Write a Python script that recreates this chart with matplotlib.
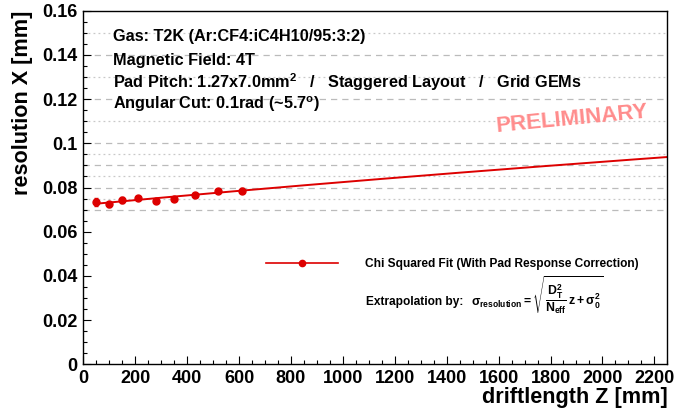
import numpy as np
import matplotlib
matplotlib.use("Agg")
import matplotlib.pyplot as plt
from matplotlib.lines import Line2D

plt.rcParams['font.family'] = ['Liberation Sans', 'DejaVu Sans']
plt.rcParams['font.weight'] = 'bold'
plt.rcParams['mathtext.fontset'] = 'custom'
plt.rcParams['mathtext.rm'] = 'Liberation Sans:bold'
plt.rcParams['mathtext.it'] = 'Liberation Sans:bold'
plt.rcParams['mathtext.bf'] = 'Liberation Sans:bold'
plt.rcParams['mathtext.sf'] = 'Liberation Sans:bold'

# ---- data ----
drift_z = [50, 100, 150, 210, 280, 350, 430, 520, 610]
resolution_x = [0.0736, 0.0724, 0.0743, 0.0752, 0.0740, 0.0748, 0.0767, 0.0784, 0.0786]
resolution_err = [0.0018, 0.0012, 0.0012, 0.0010, 0.0010, 0.0010, 0.0010, 0.0010, 0.0010]

# fit: sigma = sqrt(a*z + sigma0^2)
fit_slope = 1.598e-6      # D_T^2 / N_eff  [mm]
fit_sigma0 = 0.07212      # [mm]
fit_z_range = [50, 2250]

dashed_grid = [0.07, 0.08, 0.09, 0.10, 0.12, 0.14]
dotted_grid = [0.075, 0.085, 0.095, 0.11, 0.13, 0.15]

x_ticks = [0, 200, 400, 600, 800, 1000, 1200, 1400, 1600, 1800, 2000, 2200]
y_ticks = [0, 0.02, 0.04, 0.06, 0.08, 0.1, 0.12, 0.14, 0.16]
y_tick_labels = ['0', '0.02', '0.04', '0.06', '0.08', '0.1', '0.12', '0.14', '0.16']

info_lines = [
    "Gas: T2K (Ar:CF4:iC4H10/95:3:2)",
    "Magnetic Field: 4T",
    r"Pad Pitch: 1.27x7.0mm$^{2}$   /   Staggered Layout   /   Grid GEMs",
    r"Angular Cut: 0.1rad (~5.7$^{o}$)",
]

W, H = 674, 415
fig = plt.figure(figsize=(W / 100, H / 100), dpi=100)
L, R, T, B = 83.3, 667.3, 10.7, 364.3
ax = fig.add_axes([L / W, 1 - B / H, (R - L) / W, (B - T) / H])

red = '#dd0000'

for g in dashed_grid:
    ax.axhline(g, color='#bbbbbb', lw=0.9, ls=(0, (5, 4)), zorder=0)
for g in dotted_grid:
    ax.axhline(g, color='#c8c8c8', lw=0.9, ls=(0, (1.5, 2.5)), zorder=0)

zf = np.linspace(fit_z_range[0], fit_z_range[1], 400)
ax.plot(zf, np.sqrt(fit_slope * zf + fit_sigma0 ** 2), color=red, lw=1.4, zorder=2)

ax.errorbar(drift_z, resolution_x, yerr=resolution_err, fmt='o', color=red,
            ms=5, elinewidth=1.0, capsize=1.5, zorder=3)

ax.set_xlim(0, 2250)
ax.set_ylim(0, 0.16)
ax.set_xticks(x_ticks)
ax.set_xticks(np.arange(0, 2251, 50), minor=True)
ax.set_yticks(y_ticks)
ax.set_yticklabels(y_tick_labels)
ax.set_yticks(np.arange(0, 0.1601, 0.005), minor=True)
ax.tick_params(which='both', direction='in', top=False, right=False)
ax.tick_params(which='major', length=6, width=0.8, labelsize=13, pad=4)
ax.tick_params(which='minor', length=3, width=0.8)
for lab in ax.get_xticklabels() + ax.get_yticklabels():
    lab.set_fontweight('bold')
for s in ax.spines.values():
    s.set_linewidth(1.0)

ax.set_ylabel("resolution X [mm]", fontsize=15.6, fontweight='bold', loc='top')
ax.yaxis.set_label_coords((33 - L) / (R - L), 1.0)
ax.set_xlabel("driftlength Z [mm]", fontsize=15.6, fontweight='bold', loc='right')
ax.xaxis.set_label_coords(1.0, (B - 387) / (B - T))

# info text
ys = [37, 60, 82, 104]
for t, yy in zip(info_lines, ys):
    fig.text(113 / W, 1 - yy / H, t, fontsize=11.7, fontweight='bold', va='center', ha='left')

fig.text(572 / W, 1 - 119 / H, "PRELIMINARY", fontsize=16, fontweight='bold',
         color='#ff8c8c', rotation=5.5, ha='center', va='center')

# legend
h = Line2D([], [], color=red, lw=1.2, marker='o', ms=4.5)
fs = 8.6
fspx = fs * 100 / 72
leg = ax.legend([h], ["Chi Squared Fit (With Pad Response Correction)"], frameon=False,
                loc='center left', bbox_to_anchor=(266 / W, 1 - 264 / H),
                bbox_transform=fig.transFigure, borderpad=0, borderaxespad=0,
                handlelength=72 / fspx, handletextpad=27 / fspx, numpoints=1,
                prop={'size': fs, 'weight': 'bold'})

fig.text(366 / W, 1 - 302 / H, "Extrapolation by:", fontsize=fs, fontweight='bold',
         va='center', ha='left')
fig.text(471 / W, 1 - 295 / H,
         r"$\sigma_{resolution} = \sqrt{\dfrac{D_{T}^{2}}{N_{eff}}\,z + \sigma_{0}^{2}}$",
         fontsize=8.8, va='center', ha='left')

fig.savefig("out.png", dpi=100)
